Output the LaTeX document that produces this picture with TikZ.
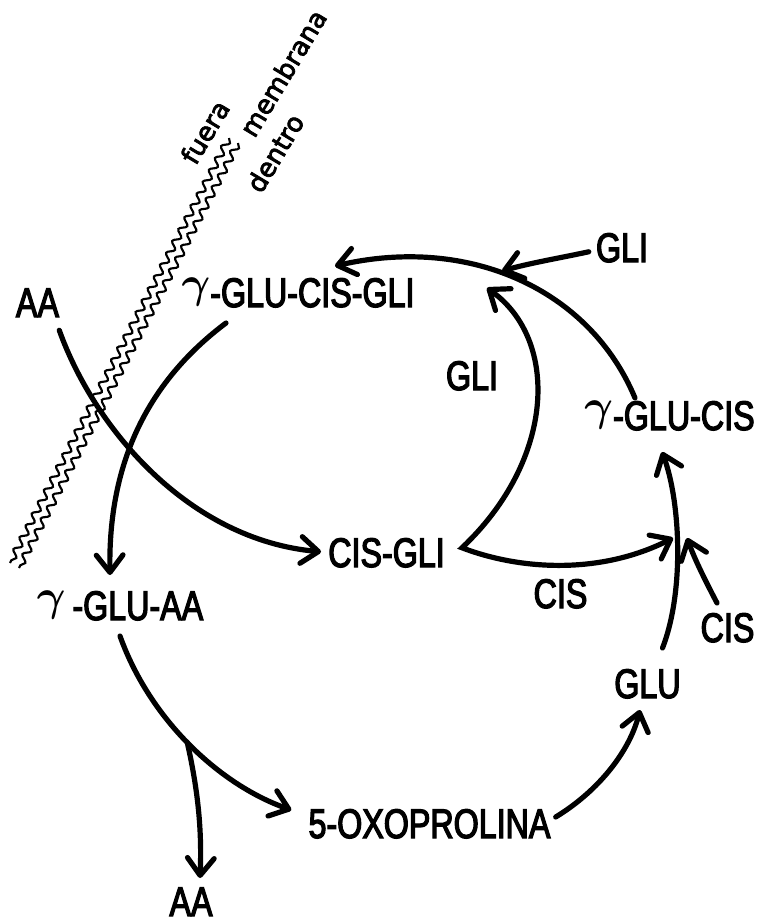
\documentclass[tikz,border=0pt]{standalone}
\usepackage{graphicx}
\usepackage{fontspec}
\setmainfont{Liberation Sans}[FakeStretch=0.78,FakeBold=3]
\newfontfamily\sidefont{DejaVu Sans}[FakeBold=3]
\newcommand{\gam}{\raisebox{7.2pt}{\scalebox{3.3}{\fontsize{10}{12}\selectfont\boldmath$\gamma$}}}
\usetikzlibrary{arrows.meta,decorations.pathmorphing}
\begin{document}
\begin{tikzpicture}[x=0.75pt,y=-0.75pt,
  barb/.tip={Straight Barb[length=13pt,width=20pt,round]},
  lbl/.style={inner sep=0pt, anchor=base, font=\fontsize{31}{36}\selectfont},
  side/.style={inner sep=0pt, font=\sidefont\fontsize{19.5}{24}\selectfont, rotate=59},
  conn/.style={line width=3.9pt, line cap=round, line join=round, -barb},
  wall/.style={line width=1.6pt, decorate, decoration={snake, segment length=10pt, amplitude=2.5pt}}]
\useasboundingbox (0,0) rectangle (760,924);

% membrane
\draw[wall] (229,138) -- (10,563);
\draw[wall] (238,143) -- (19,568);
\node[side] (fuera) at (205,132) {fuera};
\node[side] (membrana) at (283,73) {membrana};
\node[side] (dentro) at (275,153) {dentro};

% nodes
\node[lbl] (aa1) at (37.5,317) {AA};
\node[lbl] (gcg) at (298,307) {\gam-GLU-CIS-GLI};
\node[lbl] (gli1) at (622,262) {GLI};
\node[lbl] (gli2) at (472,390) {GLI};
\node[lbl] (gc) at (669.5,430) {\gam-GLU-CIS};
\node[lbl] (cg) at (386.5,567) {CIS-GLI};
\node[lbl] (cis1) at (560.5,608) {CIS};
\node[lbl] (cis2) at (727.5,642) {CIS};
\node[lbl] (ga) at (120,620) {\gam\,-GLU-AA};
\node[lbl] (glu) at (647.5,698) {GLU};
\node[lbl] (oxo) at (429.5,838) {5-OXOPROLINA};
\node[lbl] (aa2) at (191,916) {AA};

% free ends on the cycle
\coordinate (in1) at (487,288);
\coordinate (in2) at (502,271);
\coordinate (in3) at (673,538);
\coordinate (in4) at (687,538);

% AA (outside) -> CIS-GLI
\draw[conn] ([shift={(0,13)}]aa1.south east) .. controls (95,430) and (190,540) .. ([shift={(-7,-1)}]cg.west);
% gamma-GLU-CIS-GLI -> gamma-GLU-AA
\draw[conn] ([shift={(-72,16)}]gcg.base) .. controls (150,380) and (108,460) .. ([shift={(-10,-45)}]ga.base);
% gamma-GLU-AA -> 5-OXOPROLINA (with branch to AA)
\draw[conn] ([shift={(0,16)}]ga.base) .. controls (150,720) and (220,785) .. coordinate[pos=0.5] (br) ([shift={(-17,-28)}]oxo.base west);
\draw[conn] ([shift={(-3,-3)}]br) .. controls (198,790) and (202,830) .. ([shift={(9,-38)}]aa2.base);
% 5-OXOPROLINA -> GLU
\draw[conn] ([shift={(5,-21)}]oxo.base east) .. controls (600,790) and (630,750) .. ([shift={(-7.5,12)}]glu.base);
% GLU -> gamma-GLU-CIS
\draw[conn] ([shift={(15,-50)}]glu.base) .. controls (685,590) and (680,500) .. ([shift={(-7.5,22)}]gc.base);
% CIS-GLI -> GLI (up) and CIS (right)
\draw[line width=3.9pt, line cap=round, line join=miter, barb-barb] (in1) .. controls (560,340) and (555,460) .. ([shift={(17,-5)}]cg.east) .. controls (520,570) and (600,575) .. (in3);
% CIS -> cycle
\draw[conn] ([shift={(-10.5,-39)}]cis2.base) .. controls (705,580) and (695,560) .. (in4);
% gamma-GLU-CIS -> gamma-GLU-CIS-GLI
\draw[conn] ([shift={(-34.5,-32)}]gc.base) .. controls (590,290) and (470,235) .. ([shift={(37,-41)}]gcg.base);
% GLI -> cycle
\draw[conn] ([shift={(-7,4)}]gli1.west) .. controls (560,258) and (530,263) .. (in2);
\end{tikzpicture}
\end{document}
